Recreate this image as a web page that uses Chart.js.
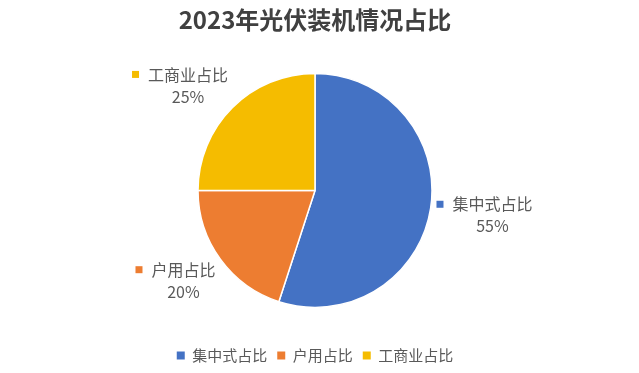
<!DOCTYPE html>
<html>
<head>
<meta charset="utf-8">
<script src="https://cdn.jsdelivr.net/npm/chart.js@4/dist/chart.umd.min.js"></script>
<style>
  html, body { margin: 0; padding: 0; background: #fff; }
  canvas { display: block; }
</style>
</head>
<body>
<canvas id="myChart" width="639" height="373"></canvas>
<script>
var categories = ['集中式占比', '户用占比', '工商业占比'];
var shares = [55, 20, 25];
var sliceColors = ['#4472C4', '#ED7D31', '#F5BC00'];
var chartTitle = '2023年光伏装机情况占比';

var FONT = '"Noto Sans CJK SC", "Noto Sans", sans-serif';
var TEXT_COLOR = '#595959';

// labels outside the pie: marker + name, percent below
var outsideLabels = {
    id: 'outsideLabels',
    afterDatasetsDraw: function(chart) {
        var ctx = chart.ctx;
        var meta = chart.getDatasetMeta(0);
        var total = shares.reduce(function(a, b) { return a + b; }, 0);
        ctx.save();
        ctx.font = '16px ' + FONT;
        ctx.textBaseline = 'middle';
        meta.data.forEach(function(arc, i) {
            var p = arc.getProps(['x', 'y', 'startAngle', 'endAngle', 'outerRadius'], true);
            var mid = (p.startAngle + p.endAngle) / 2;
            var cos = Math.cos(mid), sin = Math.sin(mid);
            var name = categories[i];
            var pct = Math.round(shares[i] / total * 100) + '%';
            var textW = ctx.measureText(name).width;
            var marker = 7, gap = 9;
            var boxW = marker + gap + textW;
            var w = boxW / 2, h = 18;
            var dist = p.outerRadius + 6;
            var ax = p.x + cos * dist;
            var ay = p.y + sin * dist;
            var sy = Math.max(-1, Math.min(1, sin / 0.5));
            var cx = ax + (cos >= 0 ? 1 : -1) * w;
            var cy = ay + sy * h;
            var left = cx - w;
            var textCx = left + marker + gap + textW / 2;
            var y1 = cy - 11, y2 = cy + 11;
            ctx.fillStyle = sliceColors[i];
            ctx.fillRect(left, y1 - marker / 2, marker, marker);
            ctx.fillStyle = TEXT_COLOR;
            ctx.textAlign = 'center';
            ctx.fillText(name, textCx, y1);
            ctx.fillText(pct, textCx, y2);
        });
        ctx.restore();
    }
};

var ctx = document.getElementById('myChart').getContext('2d');
var chart = new Chart(ctx, {
    type: 'pie',
    data: {
        labels: categories,
        datasets: [{
            data: shares,
            backgroundColor: sliceColors,
            borderColor: '#ffffff',
            borderWidth: 1.5,
            radius: 117
        }]
    },
    options: {
        responsive: false,
        animation: false,
        layout: { padding: { left: 0, right: 9, top: 0, bottom: 0 } },
        plugins: {
            title: {
                display: true,
                text: chartTitle,
                color: '#404040',
                font: { family: FONT, size: 24, weight: 'bold' },
                padding: { top: 5, bottom: 9 }
            },
            legend: {
                position: 'bottom',
                labels: {
                    color: TEXT_COLOR,
                    font: { family: FONT, size: 15 },
                    boxWidth: 8,
                    boxHeight: 8,
                    padding: 10,
                    generateLabels: function(chart) {
                        return categories.map(function(c, i) {
                            return {
                                text: c,
                                fillStyle: sliceColors[i],
                                strokeStyle: sliceColors[i],
                                lineWidth: 0,
                                fontColor: TEXT_COLOR,
                                index: i
                            };
                        });
                    }
                }
            },
            tooltip: { enabled: false }
        }
    },
    plugins: [outsideLabels]
});
</script>
</body>
</html>
